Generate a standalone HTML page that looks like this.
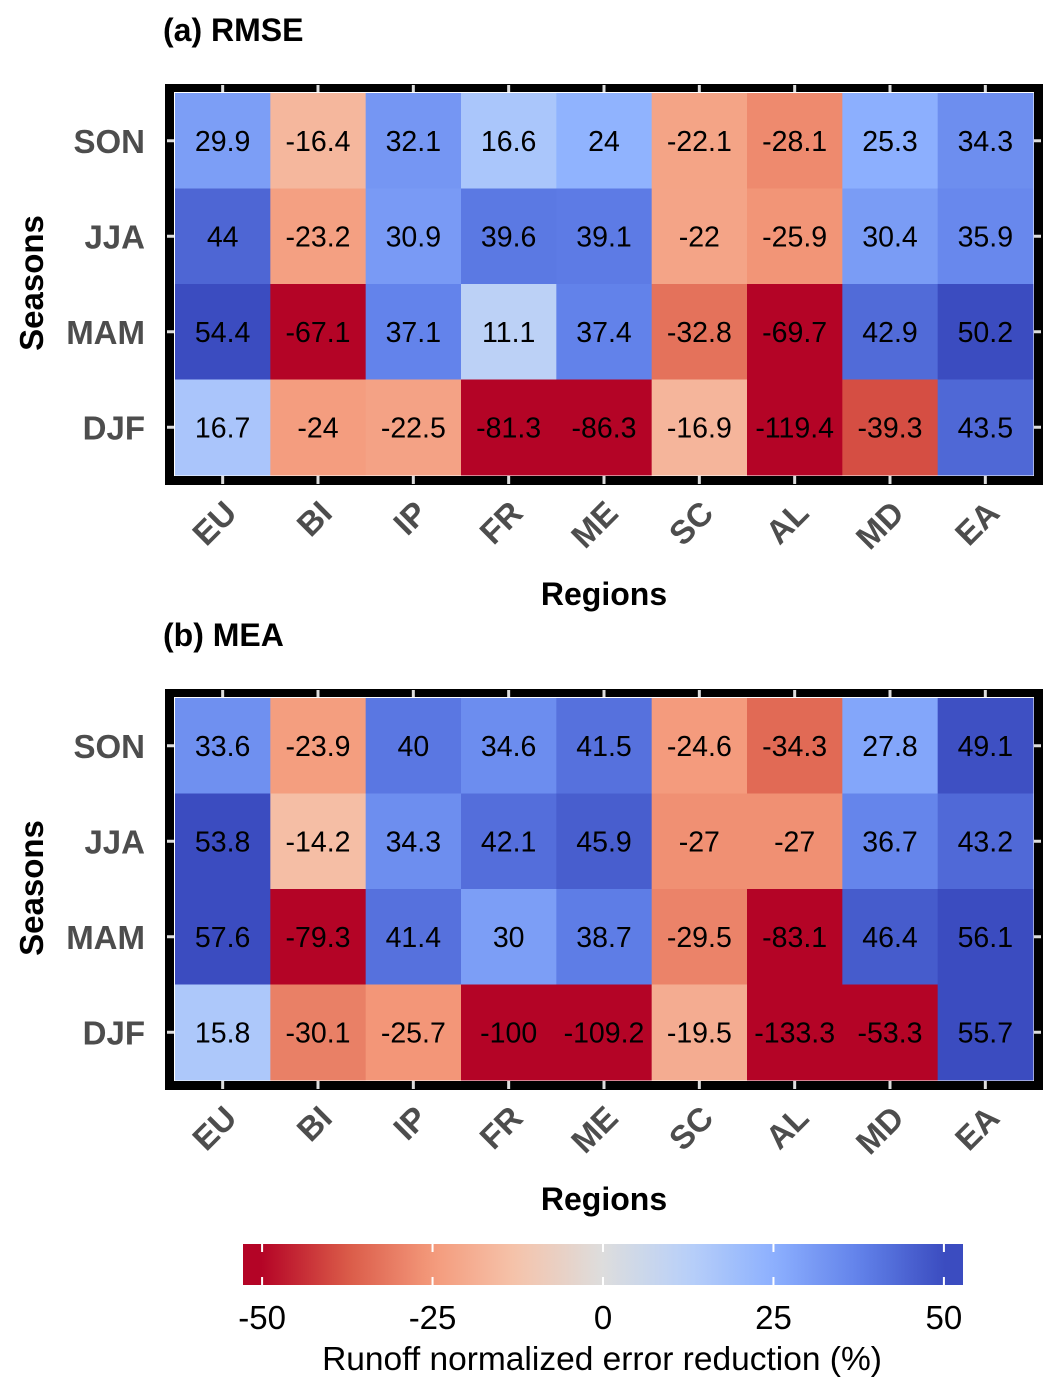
<!DOCTYPE html>
<html><head><meta charset="utf-8"><style>
body{margin:0;background:#fff;}
svg{display:block;font-family:"Liberation Sans",Arial,sans-serif;}
</style></head><body>
<svg id="s" width="1063" height="1395" viewBox="0 0 1063 1395">
<defs><linearGradient id="cb" x1="0" x2="1" y1="0" y2="0"></linearGradient></defs>
</svg>
<script>
const regions=["EU","BI","IP","FR","ME","SC","AL","MD","EA"];
const seasons=["SON","JJA","MAM","DJF"];
const rmse=[[29.9,-16.4,32.1,16.6,24,-22.1,-28.1,25.3,34.3],
[44,-23.2,30.9,39.6,39.1,-22,-25.9,30.4,35.9],
[54.4,-67.1,37.1,11.1,37.4,-32.8,-69.7,42.9,50.2],
[16.7,-24,-22.5,-81.3,-86.3,-16.9,-119.4,-39.3,43.5]];
const mea=[[33.6,-23.9,40,34.6,41.5,-24.6,-34.3,27.8,49.1],
[53.8,-14.2,34.3,42.1,45.9,-27,-27,36.7,43.2],
[57.6,-79.3,41.4,30,38.7,-29.5,-83.1,46.4,56.1],
[15.8,-30.1,-25.7,-100,-109.2,-19.5,-133.3,-53.3,55.7]];
const cbTicks=[-50,-25,0,25,50];
const NS="http://www.w3.org/2000/svg";
const svg=document.getElementById('s');
const stops=[[0,[59,76,192]],[0.125,[98,130,234]],[0.25,[141,176,254]],[0.375,[184,208,249]],[0.5,[221,221,221]],[0.625,[245,196,172]],[0.75,[244,154,123]],[0.875,[218,90,72]],[1,[180,4,38]]];
function color(v){let t=0.5-v/100;t=Math.max(0,Math.min(1,t));
for(let i=1;i<stops.length;i++){if(t<=stops[i][0]){const a=stops[i-1],b=stops[i];const f=(t-a[0])/(b[0]-a[0]);
return 'rgb('+a[1].map((c,k)=>Math.round(c+(b[1][k]-c)*f)).join(',')+')';}}return 'rgb(180,4,38)';}
function el(tag,attrs,parent){const e=document.createElementNS(NS,tag);for(const k in attrs)e.setAttribute(k,attrs[k]);(parent||svg).appendChild(e);return e;}
const X0=175,CW=(1033-175)/9,CH=(475-93)/4;
function panel(data,y0,title,key){
 const g=el('g',{});
 
 
 const t=el('text',{x:163,y:y0-52,'font-size':32,'font-weight':'bold'},g);t.textContent=title;
 
 
 const fr=el('rect',{x:165,y:y0-9,width:878,height:401,fill:'#000'},g);
 
 
 el('rect',{x:174,y:y0-1,width:860,height:384,fill:'#fff'},g);
 const xs=i=>X0+i*CW, ys=j=>y0+j*CH;
 data.forEach((row,j)=>row.forEach((v,i)=>{
  const r=el('rect',{x:xs(i),y:ys(j),width:CW+0.5,height:CH+0.5,fill:color(v)},g);
  
  
  const tx=el('text',{x:xs(i)+CW/2,y:ys(j)+CH/2+10,'font-size':28.5,'text-anchor':'middle',fill:'#000'},g);tx.textContent=v;
  
  
 }));
 seasons.forEach((s,j)=>{const cy=ys(j)+CH/2;
  el('rect',{x:167,y:cy-1.5,width:7,height:3,fill:'#ddd'},g);
  el('rect',{x:1034,y:cy-1.5,width:7,height:3,fill:'#ddd'},g);
  const l=el('text',{x:145,y:cy+12,'font-size':33,'font-weight':'bold','text-anchor':'end',fill:'#4d4d4d'},g);l.textContent=s;
  
  });
 regions.forEach((r,i)=>{const cx=xs(i)+CW/2;
  el('rect',{x:cx-1.5,y:y0+383,width:3,height:8,fill:'#ddd'},g);
  el('rect',{x:cx-1.5,y:y0-8,width:3,height:7,fill:'#ddd'},g);
  const ax=cx+16, ay=y0+422;
  const l=el('text',{x:ax,y:ay,'font-size':33,'font-weight':'bold','text-anchor':'end',fill:'#4d4d4d',transform:'rotate(-45 '+ax+' '+ay+')'},g);l.textContent=r;
  
  });
 const yt=el('text',{x:43,y:y0+190,'font-size':33,'font-weight':'bold','text-anchor':'middle',transform:'rotate(-90 43 '+(y0+190)+')'},g);yt.textContent='Seasons';
 
 
 const xt=el('text',{x:604,y:y0+512,'font-size':32,'font-weight':'bold','text-anchor':'middle'},g);xt.textContent='Regions';
 
 
}
panel(rmse,93,'(a) RMSE','rmse');
panel(mea,698,'(b) MEA','mea');
const CB0=243,CB1=963,VMIN=-52.8,VMAX=52.8;
const cbx=v=>CB0+(v-VMIN)/(VMAX-VMIN)*(CB1-CB0);
const grad=document.getElementById('cb');
for(let k=0;k<=40;k++){const v=VMIN+(VMAX-VMIN)*k/40;el('stop',{offset:(k/40),'stop-color':color(v)},grad);}
const cb=el('rect',{x:CB0,y:1244,width:CB1-CB0,height:41,fill:'url(#cb)'});


cbTicks.forEach(v=>{const x=cbx(v);
 el('rect',{x:x-1,y:1244,width:2,height:8,fill:'#fff'});
 el('rect',{x:x-1,y:1277,width:2,height:8,fill:'#fff'});
 const l=el('text',{x:x,y:1329,'font-size':33,'text-anchor':'middle'});l.textContent=v;
 
 });
const ct=el('text',{x:602,y:1370,'font-size':33.5,'text-anchor':'middle'});ct.textContent='Runoff normalized error reduction (%)';


</script>
</body></html>
